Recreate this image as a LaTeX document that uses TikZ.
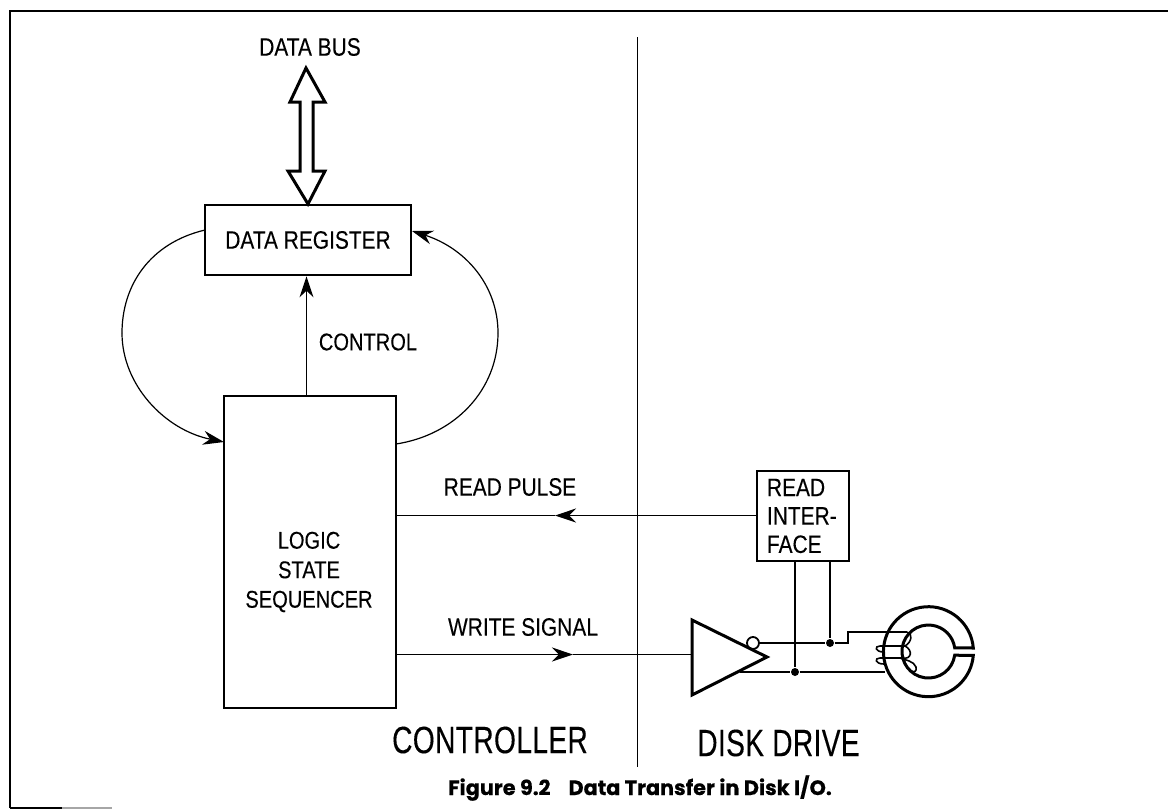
\documentclass[tikz,border=0pt]{standalone}
\usepackage{fontspec}
\usepackage{tikz}
\usetikzlibrary{arrows.meta,positioning,calc}
\newfontfamily\labelfont[FakeStretch=0.83,FakeBold=0.2]{Liberation Sans}
\newfontfamily\bigfont[FakeStretch=0.74,FakeBold=0.2,LetterSpace=1]{Liberation Sans}
\newfontfamily\capfont[FakeBold=0.5]{Poppins}

\begin{document}
\begin{tikzpicture}[x=0.5pt, y=-0.5pt, >={Stealth[length=10.5pt,width=7pt]}, line width=0.6pt,
	   b/.style={draw, line width=1.4pt, inner sep=0pt, font=\labelfont\fontsize{12.6}{14.2}\selectfont, align=center},
	   lab/.style={inner sep=0pt, font=\labelfont\fontsize{12.6}{14.2}\selectfont, align=center},
	   big/.style={inner sep=0pt, font=\bigfont\fontsize{19}{22}\selectfont},
	   hv/.style={line width=1.5pt},
	   jn/.style={circle, fill=black, inner sep=0pt, minimum size=4pt}]
	  \useasboundingbox (0,0) rectangle (1168,810);
	  % page frame
	  \draw[line width=1.3pt] (10,808) -- (10,11) -- (1168,11);
	  \draw[line width=1.3pt] (10,808) -- (62,808);
	  \draw[line width=1.3pt, black!35] (62,808) -- (112,808);
	  % boxes
	  \node[b, minimum width=103pt, minimum height=35pt] (reg) at (308,240) {\raisebox{-1pt}{DATA REGISTER}};
	  \node[b, minimum width=86pt, minimum height=156pt] (seq) at (310,552) {};
	  \node[b, minimum width=46pt, minimum height=45pt, align=left, text width=36pt] (rif) at (803,516) {READ\\INTER-\\FACE};
	  % labels
	  \node[lab, font=\labelfont\fontsize{12.1}{14.75}\selectfont] (seqt) at (309,572) {LOGIC\\STATE\\SEQUENCER};
	  \node[lab] (bus) at (310,47) {DATA BUS};
	  \node[lab, font=\labelfont\fontsize{12.1}{14.2}\selectfont] (ctl) at (368,342) {CONTROL};
	  \node[lab] (rp) at (510,487) {READ PULSE};
	  \node[lab] (ws) at (523,627) {WRITE SIGNAL};
	  \node[big] (cn) at (490,740) {CONTROLLER};
	  \node[big] (dd) at (778.5,743) {DISK DRIVE};
	  \node[inner sep=0pt, font=\capfont\bfseries\fontsize{10.4}{12}\selectfont] (cap) at (640,788) {Figure 9.2\hspace{9pt}Data Transfer in Disk I/O.};
	  % divider
	  \coordinate (dt) at (637.5,37);
	  \coordinate (db) at (637.5,767);
	  \draw (dt) -- (db);
	  % data bus arrow
	  \draw[hv, line join=miter] (306,68) -- (325,102) -- (313,102) -- (313,171) -- (325,171) -- (308,204)
	     -- (288,171) -- (300,171) -- (300,102) -- (290,102) -- cycle;
	  % loops
	  \coordinate (lt) at (122,333);
	  \coordinate (rt) at (498,333);
	  \draw[->] (seq.north -| 306.5,0) -- (reg.south -| 306.5,0);
	  \draw (205,230) .. controls (150,243) and (122,285) .. (lt);
	  \draw[->] (lt) .. controls (122,385) and (165,430) .. (224,442);
	  \draw (396,444) .. controls (455,435) and (498,390) .. (rt);
	  \draw[->] (rt) .. controls (498,285) and (465,248) .. (412,231);
	  % signals
	  \coordinate (rm) at (555,515.5);
	  \coordinate (wm) at (573,654.5);
	  \draw[->] (rif.west |- rm) -- (rm);
	  \draw (rm) -- (seq.east |- rm);
	  \draw[->] (seq.east |- wm) -- (wm);
	  % driver
	  \coordinate (ta) at (692,620);
	  \coordinate (tb) at (692,695);
	  \coordinate (tc) at (767,657);
	  \draw[hv] (ta) -- (tc) -- (tb) -- cycle;
	  \draw (wm) -- (ta |- wm);
	  \node[circle, draw, line width=0.9pt, inner sep=0pt, minimum size=6pt] (bub) at (753,643) {};
	  \node[jn] (j1) at (830,643) {};
	  \node[jn] (j2) at (795,672) {};
	  \draw (bub.east) -- (j1) -- (848,643) -- (848,632) -- (907,632);
	  \draw (740,672) -- (j2) -- (885,672);
	  \draw (rif.south -| j1) -- (j1);
	  \draw (rif.south -| j2) -- (j2);
	  % head
	  \draw[hv, line join=miter] (973.3,648) arc[start angle=4.7, end angle=355.3, radius=22.5pt]
	     -- (954.7,655.2) arc[start angle=352, end angle=8, radius=13.25pt] -- cycle;
	  % coil
	  \draw[line width=0.8pt] (907,632) .. controls (913,633) and (912,642) .. (905,646) -- (880,646)
	     .. controls (874,646) and (875,652) .. (884,652);
	  \draw[line width=0.8pt] (905,646) .. controls (913,650) and (912,660) .. (902,658) -- (880,658)
	     .. controls (874,658) and (875,664) .. (884,664);
	  \draw[line width=0.8pt] (903,655) .. controls (905,672) and (918,676) .. (916,667) .. controls (914,661) and (905,660) .. (900,658);
	\end{tikzpicture}
\end{document}
